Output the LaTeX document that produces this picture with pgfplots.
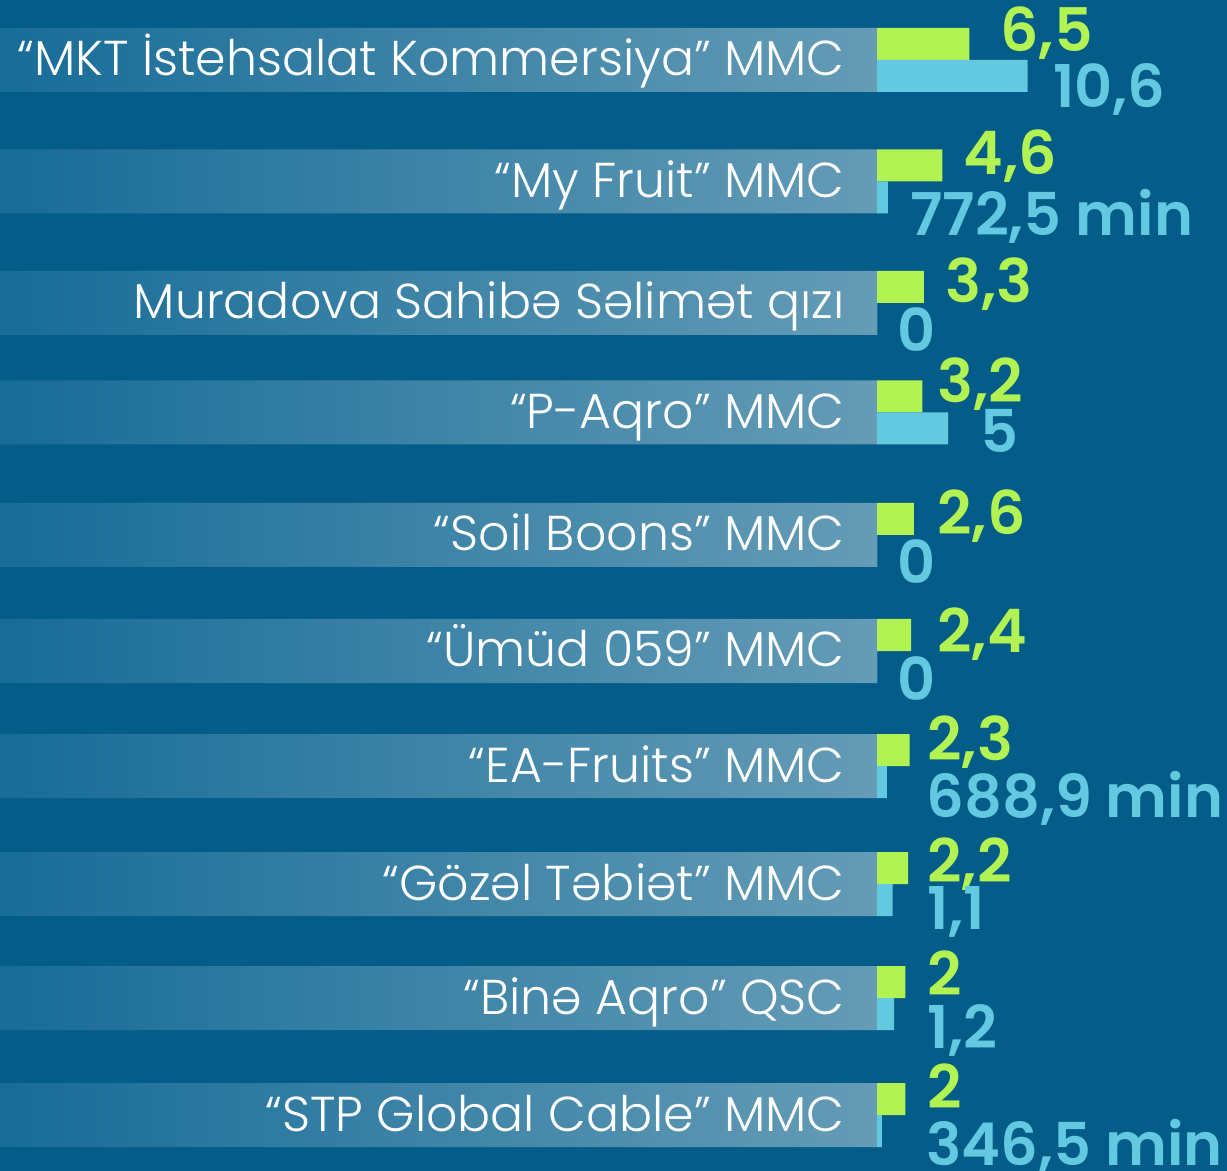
\documentclass[border=0pt]{standalone}
\usepackage{pgfplots}
\pgfplotsset{compat=1.18}
\usepackage{pgfplotstable}
\usepackage{fontspec}
\setmainfont{Poppins}
\newfontfamily\labelfont{Poppins Light}
\newfontfamily\numfont{Poppins SemiBold}
\definecolor{bgblue}{HTML}{045D88}
\definecolor{bandL}{HTML}{176C98}
\definecolor{bandR}{HTML}{659CB6}
\definecolor{grn}{HTML}{B2F252}
\definecolor{cyn}{HTML}{63C9E1}

\pgfplotstableread[col sep=semicolon]{
x;y;label
-2.25;76;“MKT İstehsalat Kommersiya” MMC
-2.25;197.5;“My Fruit” MMC
-2.25;319;Muradova Sahibə Səlimət qızı
-2.25;428.5;“P-Aqro” MMC
-2.25;551;“Soil Boons” MMC
-2.25;667;“Ümüd 059” MMC
-2.25;782;“EA-Fruits” MMC
-2.25;900;“Gözəl Təbiət” MMC
-2.25;1014;“Binə Aqro” QSC
-2.25;1131;“STP Global Cable” MMC
}\names

\pgfplotstableread[col sep=semicolon]{
x;y;label
8.66;52;6,5
6.06;175;4,6
4.79;303;3,3
4.23;403;3,2
4.23;535;2,6
4.23;653;2,4
3.52;760;2,3
3.52;882;2,2
3.52;995;2
3.52;1108;2
}\greenlabels

\pgfplotstableread[col sep=semicolon]{
x;y;label
12.39;108;10,6
2.32;236;772,5 min
1.41;352;0
7.25;453;5
1.41;583;0
1.41;700;0
3.45;817;688,9 min
3.52;929;1,1
3.52;1048;1,2
3.45;1165;346,5 min
}\cyanlabels

\begin{document}
\begin{tikzpicture}
\useasboundingbox (0,0) rectangle (613.5pt,585.5pt);
\clip (0,0) rectangle (613.5pt,585.5pt);
\fill[bgblue] (0,0) rectangle (613.5pt,585.5pt);
\begin{axis}[
  at={(0,0)}, anchor=south west,
  scale only axis,
  x=7.1pt, y=0.5pt,
  xmin=-61.76, xmax=24.65,
  ymin=0, ymax=1171,
  y dir=reverse,
  enlargelimits=false,
  axis lines=none,
  xtick=\empty, ytick=\empty,
  clip=false,
]
% bands
\addplot[xbar, bar shift=0pt, bar width=64, draw=none, left color=bandL, right color=bandR]
  coordinates {(-61.76,60) (-61.76,181.5) (-61.76,303) (-61.76,412.5) (-61.76,535)
               (-61.76,651) (-61.76,766) (-61.76,884) (-61.76,998) (-61.76,1115)};
% green series
\addplot[xbar, bar shift=0pt, bar width=32, draw=none, fill=grn]
  coordinates {(6.5,44) (4.6,165.5) (3.3,287) (3.2,396.5) (2.6,519)
               (2.4,635) (2.3,750) (2.2,868) (2.0,982) (2.0,1099)};
% cyan series
\addplot[xbar, bar shift=0pt, bar width=32, draw=none, fill=cyn]
  coordinates {(10.6,76) (0.7725,197.5) (0,319) (5.0,428.5) (0,551)
               (0,667) (0.6889,782) (1.1,900) (1.2,1014) (0.3465,1131)};
% category names
\addplot[draw=none, mark=none, nodes near coords, point meta=explicit symbolic,
  every node near coord/.append style={anchor=base east, inner sep=0pt, text=white,
    font=\labelfont\fontsize{24.5}{24.5}\selectfont}]
  table[x=x, y=y, meta=label] {\names};
% value labels
\addplot[draw=none, mark=none, nodes near coords, point meta=explicit symbolic,
  every node near coord/.append style={anchor=base west, inner sep=0pt, text=grn,
    font=\numfont\fontsize{30}{30}\selectfont}]
  table[x=x, y=y, meta=label] {\greenlabels};
\addplot[draw=none, mark=none, nodes near coords, point meta=explicit symbolic,
  every node near coord/.append style={anchor=base west, inner sep=0pt, text=cyn,
    font=\numfont\fontsize{29.5}{29.5}\selectfont}]
  table[x=x, y=y, meta=label] {\cyanlabels};
\end{axis}
\end{tikzpicture}
\end{document}
